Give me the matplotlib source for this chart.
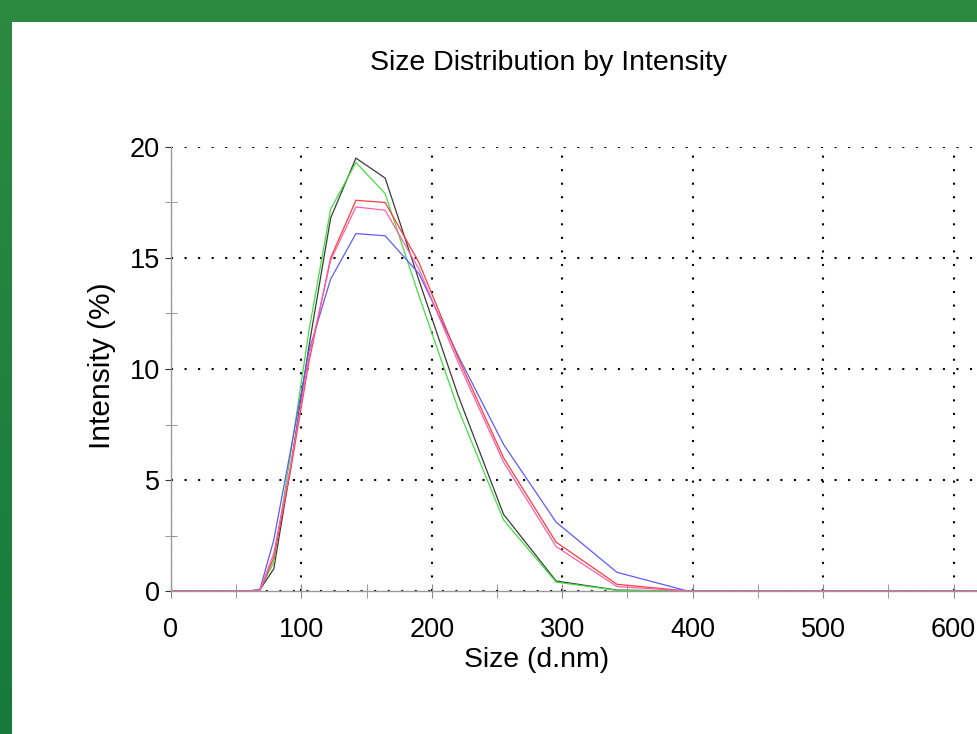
import matplotlib
matplotlib.use('Agg')
import matplotlib.pyplot as plt
from matplotlib.patches import Rectangle
from matplotlib.colors import LinearSegmentedColormap
from matplotlib.ticker import MultipleLocator
import numpy as np

plt.rcParams['font.family'] = ['Liberation Sans', 'DejaVu Sans']

# розміри частинок (d.nm), бін-центри приладу
sizes = [0.4, 10.0, 43.82, 50.75, 58.77, 68.06, 78.82, 91.28, 105.7, 122.4,
         141.8, 164.2, 190.1, 220.2, 255.0, 295.3, 342.0, 396.1, 458.7,
         531.2, 615.1, 712.4, 825.0]

# інтенсивність (%) для п'яти вимірювань
run_black = [0, 0, 0, 0, 0, 0.05, 1.0, 5.4, 11.0, 16.8, 19.5, 18.6, 14.0, 8.8, 3.45, 0.45, 0.04, 0, 0, 0, 0, 0, 0]
run_green = [0, 0, 0, 0, 0, 0.05, 1.3, 6.0, 11.7, 17.2, 19.3, 17.9, 13.3, 8.2, 3.2, 0.4, 0.03, 0, 0, 0, 0, 0, 0]
run_red = [0, 0, 0, 0, 0, 0.02, 1.5, 5.3, 10.3, 15.0, 17.6, 17.5, 14.8, 10.5, 6.0, 2.2, 0.3, 0, 0, 0, 0, 0, 0]
run_pink = [0, 0, 0, 0, 0, 0.02, 1.7, 5.5, 10.5, 14.9, 17.3, 17.15, 14.5, 10.3, 5.8, 2.0, 0.2, 0, 0, 0, 0, 0, 0]
run_blue = [0, 0, 0, 0, 0, 0.05, 2.3, 6.2, 10.8, 14.05, 16.1, 16.0, 14.3, 10.6, 6.6, 3.1, 0.84, 0, 0, 0, 0, 0, 0]

fig = plt.figure(figsize=(9.77, 7.34), dpi=100)

# зелена рамка зверху і зліва
fig.patches.append(Rectangle((0, 1 - 22 / 734), 1, 22 / 734, transform=fig.transFigure,
                             facecolor='#2c8a40', edgecolor='none', zorder=0))
ax_bar = fig.add_axes([0, 0, 12 / 977, 1 - 22 / 734])
grad = LinearSegmentedColormap.from_list('g', ['#167a3c', '#2c8a40'])
ax_bar.imshow(np.linspace(0, 1, 256).reshape(-1, 1), cmap=grad, aspect='auto', origin='lower')
ax_bar.axis('off')

ax = fig.add_axes([171 / 977, 143 / 734, 806 / 977, 444 / 734])

ax.plot(sizes, run_black, color='#3a3a3a', lw=0.9)
ax.plot(sizes, run_green, color='#40e040', lw=0.9)
ax.plot(sizes, run_blue, color='#5c5cff', lw=0.9)
ax.plot(sizes, run_red, color='#ff3c3c', lw=0.9)
ax.plot(sizes, run_pink, color='#ff5fb0', lw=0.9)

ax.set_xlim(0, 618)
ax.set_ylim(0, 20)
ax.xaxis.set_major_locator(MultipleLocator(100))
ax.xaxis.set_minor_locator(MultipleLocator(50))
ax.yaxis.set_major_locator(MultipleLocator(5))
ax.yaxis.set_minor_locator(MultipleLocator(2.5))

ax.grid(True, which='major', color='black', linestyle=(0, (1, 5.5)), linewidth=1.5)
for s in ['top', 'right']:
    ax.spines[s].set_visible(False)
for s in ['left', 'bottom']:
    ax.spines[s].set_color('#999999')
    ax.spines[s].set_linewidth(1.0)

ax.tick_params(axis='x', which='both', direction='inout', length=10, color='#888888',
               labelsize=19.5, pad=14)
ax.tick_params(axis='y', which='major', direction='out', length=4, color='#333333',
               labelsize=19.5, pad=4)
ax.tick_params(axis='y', which='minor', direction='inout', length=8, color='#888888')

# підписи розміщені за пікселями оригіналу
fig.text(549 / 977, 1 - 63 / 734, 'Size Distribution by Intensity', fontsize=20.5,
         ha='center', va='center')
fig.text(537 / 977, 1 - 660 / 734, 'Size (d.nm)', fontsize=20.4, ha='center', va='center')
fig.text(102 / 977, 1 - 366 / 734, 'Intensity (%)', fontsize=21.5, ha='center', va='center',
         rotation=90)

fig.savefig('out.png', dpi=100)
